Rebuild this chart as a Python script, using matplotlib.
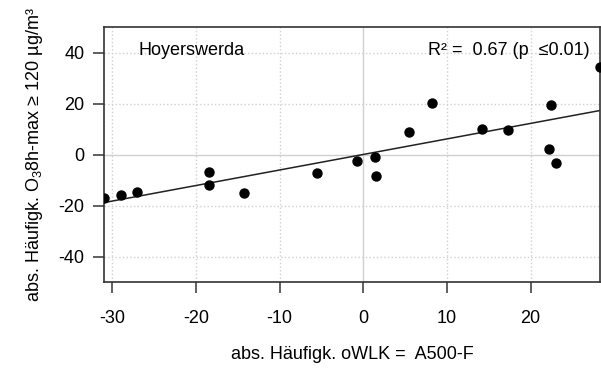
import matplotlib.pyplot as plt
import numpy as np

plt.rcParams['font.family'] = ['Liberation Sans', 'DejaVu Sans']
plt.rcParams['mathtext.fontset'] = 'custom'
plt.rcParams['mathtext.rm'] = 'Liberation Sans'
plt.rcParams['mathtext.it'] = 'Liberation Sans:italic'
plt.rcParams['axes.unicode_minus'] = False

# values
owlk_a500f = [-31.0, -29.0, -27.0, -18.5, -18.4, -14.3, -5.5, -0.7, 1.4, 1.55,
              5.5, 8.2, 14.2, 17.3, 22.15, 22.4, 23.1, 28.3]
o3_exceed = [-17.0, -16.0, -14.8, -6.7, -11.9, -15.1, -7.4, -2.4, -0.9, -8.5,
             8.9, 20.1, 10.2, 9.8, 2.4, 19.4, -3.4, 34.4]
x_ticks = [-30, -20, -10, 0, 10, 20]
y_ticks = [-40, -20, 0, 20, 40]
station = 'Hoyerswerda'
r2_text = 'R² =  0.67 (p  ≤0.01)'

x = np.array(owlk_a500f)
y = np.array(o3_exceed)
fs = 13

fig = plt.figure(figsize=(6.01, 3.72), dpi=100)
ax = fig.add_axes([0.173, 0.242, 0.8253, 0.6846])

# grid: dotted, with solid zero lines
for t in x_ticks:
    ax.axvline(t, color='#d0d0d0', lw=1.0, ls='-' if t == 0 else ':', zorder=0)
for t in y_ticks:
    ax.axhline(t, color='#d0d0d0', lw=1.0, ls='-' if t == 0 else ':', zorder=0)

# linear fit
slope, intercept = np.polyfit(x, y, 1)
xl = np.array([x.min(), x.max()])
ax.plot(xl, slope * xl + intercept, color='#222222', lw=1.1, zorder=2)

ax.scatter(x, y, s=42, color='black', zorder=3)

ax.set_xlim(x.min(), x.max())
ax.set_ylim(-50, 50)
ax.set_xticks(x_ticks)
ax.set_yticks(y_ticks)
ax.tick_params(length=8, width=1.2, color='#444444', labelsize=fs, pad=6)
ax.tick_params(axis='x', pad=12)
for s in ax.spines.values():
    s.set_linewidth(1.2)
    s.set_color('#333333')

ax.text(-26.9, 40.8, station, fontsize=fs, va='center', ha='left')
ax.text(27.1, 40.8, r2_text, fontsize=fs, va='center', ha='right')

ax.set_xlabel('abs. Häufigk. oWLK =  A500-F', fontsize=fs, labelpad=14)
ax.set_ylabel('abs. Häufigk. O$_3$8h-max ≥ 120 µg/m³', fontsize=fs, labelpad=10)

fig.savefig('out.png', dpi=100)
